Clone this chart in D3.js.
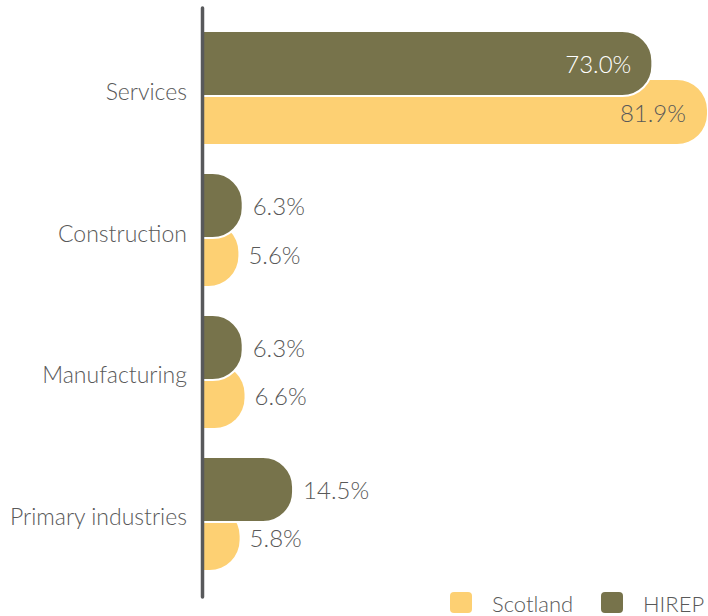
<!DOCTYPE html>
<html>
<head>
<meta charset="utf-8">
<script src="https://cdn.jsdelivr.net/npm/d3@7"></script>
<style>
  html, body { margin: 0; padding: 0; background: #fff; }
  svg { display: block; }
  text { font-family: Lato, "Open Sans", sans-serif; font-weight: 300; }
</style>
</head>
<body>
<script>
const categories = ["Services", "Construction", "Manufacturing", "Primary industries"];
const seriesNames = ["Scotland", "HIREP"];
const scotland = [81.9, 5.6, 6.6, 5.8];
const hirep = [73.0, 6.3, 6.3, 14.5];
const labelFmt = d => d.toFixed(1) + "%";

const colors = { Scotland: "#FDD073", HIREP: "#77734B" };
const textColor = "#595959";

const W = 708, H = 616;
const svg = d3.select("body").append("svg").attr("width", W).attr("height", H);

const x = d3.scaleLinear().domain([0, 81.9]).range([204, 707]);
const y = d3.scaleBand().domain(categories).range([31, 570]).paddingInner(0.204).paddingOuter(0);

const bw = y.bandwidth();
const hH = 65;           // HIREP bar height
const sOff = 49;         // Scotland bar offset within group
const sH = bw - sOff;    // Scotland bar height

function barPath(x0, x1, y0, h, rMax) {
  const w = Math.max(0, x1 - x0);
  const r = Math.min(rMax, w, h / 2);
  return `M${x0},${y0} H${x1 - r} A${r},${r} 0 0 1 ${x1},${y0 + r} V${y0 + h - r} A${r},${r} 0 0 1 ${x1 - r},${y0 + h} H${x0} Z`;
}

const data = categories.map((c, i) => ({ cat: c, s: scotland[i], h: hirep[i] }));

const g = svg.append("g");

// Scotland bars
g.selectAll("path.scot").data(data).join("path")
  .attr("class", "scot")
  .attr("d", d => barPath(x(0), x(d.s), y(d.cat) + sOff, sH, 30))
  .attr("fill", colors.Scotland);

// HIREP bars (on top, with white outline)
g.selectAll("path.hirep").data(data).join("path")
  .attr("class", "hirep")
  .attr("d", d => barPath(x(0) - 2, x(d.h), y(d.cat), hH, 30))
  .attr("fill", colors.HIREP)
  .attr("stroke", "#fff")
  .attr("stroke-width", 2);

// Value labels
function addLabels(key, yTop, h, insideColor) {
  g.selectAll("text.v-" + key).data(data).join("text")
    .attr("class", "v-" + key)
    .each(function(d) {
      const v = d[key];
      const inside = (x(v) - x(0)) > 120;
      d3.select(this)
        .attr("x", inside ? x(v) - 21 : x(v) + 10)
        .attr("text-anchor", inside ? "end" : "start")
        .attr("fill", inside ? insideColor : textColor);
    })
    .attr("y", d => y(d.cat) + yTop(d) + h / 2)
    .attr("dominant-baseline", "central")
    .attr("font-size", 24)
    .text(d => labelFmt(d[key]));
}
addLabels("h", () => 0, hH, "#ffffff");
addLabels("s", () => sOff, sH, textColor);

// Category axis labels
g.selectAll("text.cat").data(categories).join("text")
  .attr("class", "cat")
  .attr("x", 187)
  .attr("y", d => y(d) + bw / 2 + 3)
  .attr("text-anchor", "end")
  .attr("dominant-baseline", "central")
  .attr("font-size", 23)
  .attr("fill", textColor)
  .text(d => d);

// Axis line
svg.append("line")
  .attr("x1", 202.5).attr("x2", 202.5)
  .attr("y1", 8).attr("y2", 597)
  .attr("stroke", "#58595B")
  .attr("stroke-width", 3.5)
  .attr("stroke-linecap", "round");

// Legend
const legendX = [450, 601];
const lg = svg.append("g").selectAll("g").data(seriesNames).join("g")
  .attr("transform", (d, i) => `translate(${legendX[i]},592)`);
lg.append("rect").attr("width", 22).attr("height", 21).attr("rx", 4)
  .attr("fill", d => colors[d]);
lg.append("text").attr("x", 42).attr("y", 11)
  .attr("dominant-baseline", "central")
  .attr("font-size", 22)
  .attr("fill", textColor)
  .text(d => d);
</script>
</body>
</html>
